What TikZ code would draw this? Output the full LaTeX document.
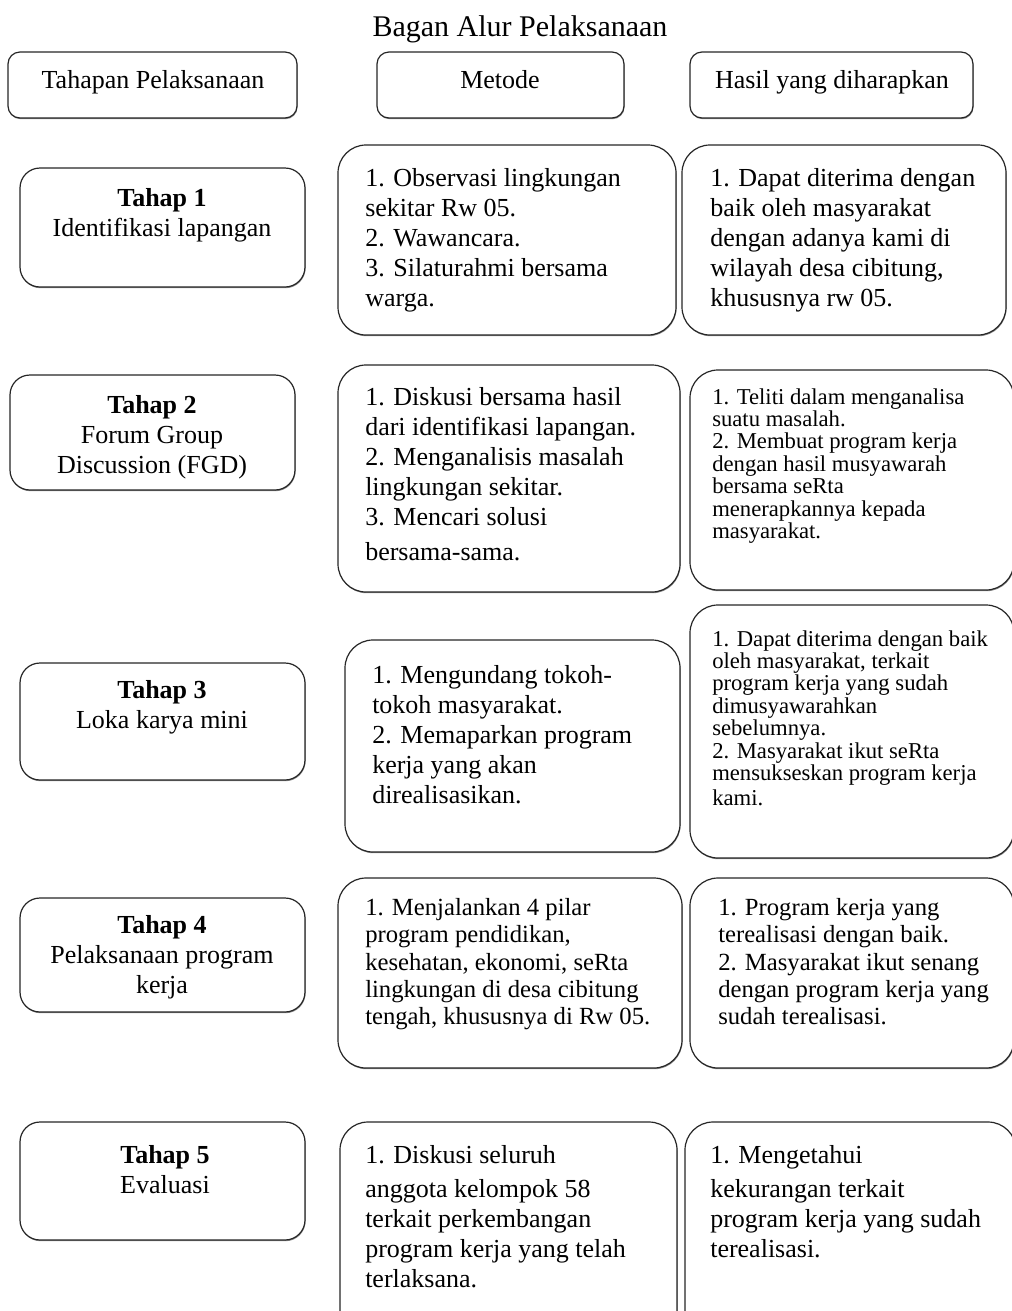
\documentclass[tikz,border=0pt]{standalone}
\usepackage{fontspec}
\setmainfont{Liberation Serif}
\usetikzlibrary{shadows}

\tikzset{
  kotak/.style={draw=black!85, line width=0.9pt, rounded corners=21pt, fill=white,
    general shadow={shadow xshift=0.4pt, shadow yshift=-0.9pt, fill=black!45}},
  kotaktahap/.style={kotak, rounded corners=15pt},
  kepala/.style={kotak, rounded corners=9pt},
  judul/.style={inner sep=0pt, font=\fontsize{22.5}{26}\selectfont},
  teks/.style={inner sep=0pt, font=\fontsize{19.5}{22.5}\selectfont},
  isi/.style={anchor=north west, inner sep=0pt, align=left, font=\fontsize{19.5}{22.5}\selectfont},
  isisedang/.style={isi, font=\fontsize{18.5}{20.5}\selectfont},
  isikecil/.style={isi, font=\fontsize{17}{16.8}\selectfont},
  tahap/.style={anchor=north, inner sep=0pt, align=center, font=\fontsize{19.5}{22.5}\selectfont}
}

\begin{document}
\begin{tikzpicture}[x=0.75pt, y=-0.75pt]
  \useasboundingbox (0,0) rectangle (1011,1311);

  \node[judul] (judul) at (520,29) {Bagan Alur Pelaksanaan};

  % kepala kolom
  \draw[kepala] (8,52) rectangle (297,118);
  \draw[kepala] (377,52) rectangle (624,118);
  \draw[kepala] (690,52) rectangle (973,118);
  \node[teks] (kolomtahap) at (153,82) {Tahapan Pelaksanaan};
  \node[teks] (kolommetode) at (500,80) {Metode};
  \node[teks] (kolomhasil) at (832,82) {Hasil yang diharapkan};

  % tahap 1
  \draw[kotaktahap] (20,168) rectangle (305,287);
  \draw[kotak] (338,145) rectangle (676,335);
  \draw[kotak] (682,145) rectangle (1006,335);
  \node[tahap] (tahap1) at (162,188) {\textbf{Tahap 1}\\Identifikasi lapangan};
  \node[isi] (metode1) at (365,168) {1. Observasi lingkungan\\sekitar Rw 05.\\2. Wawancara.\\3. Silaturahmi bersama\\warga.};
  \node[isi] (hasil1) at (710,168) {1. Dapat diterima dengan\\baik oleh masyarakat\\dengan adanya kami di\\wilayah desa cibitung,\\khususnya rw 05.};

  % tahap 2
  \draw[kotaktahap] (10,375) rectangle (295,490);
  \draw[kotak] (338,365) rectangle (680,592);
  \draw[kotak] (690,370) rectangle (1014,590);
  \node[tahap] (tahap2) at (152,395) {\textbf{Tahap 2}\\Forum Group\\Discussion (FGD)};
  \node[isi] (metode2) at (365,387) {1. Diskusi bersama hasil\\dari identifikasi lapangan.\\2. Menganalisis masalah\\lingkungan sekitar.\\3. Mencari solusi\\[4pt]bersama-sama.};
  \node[isikecil] (hasil2) at (712,388) {1. Teliti dalam menganalisa\\suatu masalah.\\2. Membuat program kerja\\dengan hasil musyawarah\\bersama seRta\\menerapkannya kepada\\masyarakat.};

  % tahap 3
  \draw[kotaktahap] (20,663) rectangle (305,780);
  \draw[kotak] (345,640) rectangle (680,852);
  \draw[kotak] (690,605) rectangle (1014,858);
  \node[tahap] (tahap3) at (162,680) {\textbf{Tahap 3}\\Loka karya mini};
  \node[isi] (metode3) at (372,665) {1. Mengundang tokoh-\\tokoh masyarakat.\\2. Memaparkan program\\kerja yang akan\\direalisasikan.};
  \node[isikecil] (hasil3) at (712,630) {1. Dapat diterima dengan baik\\oleh masyarakat, terkait\\program kerja yang sudah\\dimusyawarahkan\\sebelumnya.\\2. Masyarakat ikut seRta\\mensukseskan program kerja\\[2pt]kami.};

  % tahap 4
  \draw[kotaktahap] (20,898) rectangle (305,1012);
  \draw[kotak] (338,878) rectangle (682,1068);
  \draw[kotak] (690,878) rectangle (1014,1068);
  \node[tahap] (tahap4) at (162,915) {\textbf{Tahap 4}\\Pelaksanaan program\\kerja};
  \node[isisedang] (metode4) at (365,898) {1. Menjalankan 4 pilar\\program pendidikan,\\kesehatan, ekonomi, seRta\\lingkungan di desa cibitung\\tengah, khususnya di Rw 05.};
  \node[isisedang] (hasil4) at (718,898) {1. Program kerja yang\\terealisasi dengan baik.\\2. Masyarakat ikut senang\\dengan program kerja yang\\sudah terealisasi.};

  % tahap 5
  \draw[kotaktahap] (20,1122) rectangle (305,1240);
  \draw[kotak] (340,1122) rectangle (677,1340);
  \draw[kotak] (685,1122) rectangle (1016,1340);
  \node[tahap] (tahap5) at (165,1145) {\textbf{Tahap 5}\\Evaluasi};
  \node[isi] (metode5) at (365,1145) {1. Diskusi seluruh\\[3pt]anggota kelompok 58\\terkait perkembangan\\program kerja yang telah\\terlaksana.};
  \node[isi] (hasil5) at (710,1145) {1. Mengetahui\\[3pt]kekurangan terkait\\program kerja yang sudah\\terealisasi.};
\end{tikzpicture}
\end{document}
